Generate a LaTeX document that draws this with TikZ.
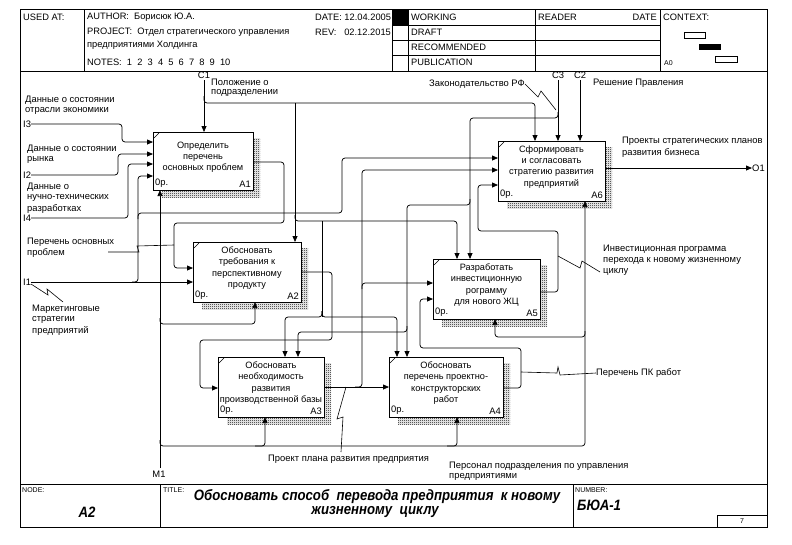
\documentclass[tikz,border=0pt]{standalone}
\usepackage{fontspec}
\setmainfont{Liberation Sans}
\usetikzlibrary{arrows.meta,patterns,calc,fit}
\pgfdeclarepatternformonly{fdots}{\pgfqpoint{0pt}{0pt}}{\pgfqpoint{2pt}{2pt}}{\pgfqpoint{2pt}{2pt}}{%
  \pgfpathrectangle{\pgfqpoint{0pt}{0pt}}{\pgfqpoint{1pt}{1pt}}%
  \pgfpathrectangle{\pgfqpoint{1pt}{1pt}}{\pgfqpoint{1pt}{1pt}}%
  \pgfusepath{fill}}
\tikzset{
  ln/.style={line width=0.75pt, rounded corners=3pt},
  arr/.style={ln, -{Triangle[length=6pt,width=5pt]}},
  lead/.style={line width=0.6pt},
  lbl/.style={font=\fontsize{9.4}{11}\selectfont, inner sep=0pt, anchor=west},
  hd/.style={font=\fontsize{9.3}{11}\selectfont, inner sep=0pt, anchor=west},
  sm/.style={font=\fontsize{7}{8}\selectfont, inner sep=0pt, anchor=west},
  frm/.style={line width=0.8pt},
  btxt/.style={font=\fontsize{9.2}{11.2}\selectfont, align=center, inner sep=0pt, anchor=center},
  bt/.style={font=\bfseries\itshape\fontsize{15}{16}\selectfont, inner sep=0pt},
}
\newcommand\idbox[7]{%
  \fill[pattern=fdots] (#2+9,#3+6) rectangle (#4+7,#5+7);
  \path (#2,#3) coordinate (#1nw) (#4,#5) coordinate (#1se);
  \node[draw, line width=0.8pt, fill=white, inner sep=0pt, outer sep=0pt, fit=(#1nw)(#1se)] (#1) {};
  \node[btxt] at ($(#1.center)+(0,-4)$) {#6};
  \node[lbl, anchor=south west] at ($(#1.south west)+(2,-2)$) {0р.};
  \node[lbl, anchor=south east] at ($(#1.south east)+(-2,-2)$) {#7};
  \draw[line width=0.6pt] ($(#1.north west)+(1,6)$) -- ($(#1.north west)+(6,1)$);
}
\begin{document}
\begin{tikzpicture}[x=1pt,y=-1pt]
\useasboundingbox (0,0) rectangle (792,544);
% ---------- frame ----------
\draw[frm] (20,9) rectangle (767,527);
\draw[frm] (20,71) -- (767,71);
\draw[frm] (84,9) -- (84,71);
\draw[frm] (392,9) -- (392,71);
\draw[frm] (408,9) -- (408,71);
\draw[frm] (535,9) -- (535,71);
\draw[frm] (660,9) -- (660,71);
\draw[frm] (392,25) -- (660,25);
\draw[frm] (392,40) -- (660,40);
\draw[frm] (392,55) -- (660,55);
\fill (392,9) rectangle (408,25);
\node[hd] at (23,17) {USED AT:};
\node[hd] at (87,17) {AUTHOR:\ \ Борисюк Ю.А.};
\node[hd] at (315,17) {DATE: 12.04.2005};
\node[hd] at (87,32) {PROJECT:\ \ Отдел стратегического управления};
\node[hd] at (87,45) {предприятиями Холдинга};
\node[hd] at (315,32) {REV:\ \ \ 02.12.2015};
\node[hd] at (87,62) {NOTES:\ \ 1\ \ 2\ \ 3\ \ 4\ \ 5\ \ 6\ \ 7\ \ 8\ \ 9\ \ 10};
\node[hd] at (411,17) {WORKING};
\node[hd] at (411,32) {DRAFT};
\node[hd] at (411,47) {RECOMMENDED};
\node[hd] at (411,62) {PUBLICATION};
\node[hd] at (538,17) {READER};
\node[hd, anchor=east] at (657,17) {DATE};
\node[hd] at (663,17) {CONTEXT:};
\node[sm] at (664,63) {A0};
\draw[line width=0.7pt] (684,32) rectangle (705,38);
\fill (699,44) rectangle (721,50);
\draw[line width=0.7pt] (715,56) rectangle (737,62);
% footer
\draw[frm] (20,484) -- (767,484);
\draw[frm] (160,484) -- (160,527);
\draw[frm] (573,484) -- (573,527);
\draw[frm] (717,515) rectangle (767,527);
\node[sm] at (22,490) {NODE:};
\node[sm] at (163,490) {TITLE:};
\node[sm] at (575,490) {NUMBER:};
\node[bt] at (87,512) {\scalebox{0.88}[1]{A2}};
\node[bt] at (377,497) {\scalebox{0.88}[1]{Обосновать способ\ \ перевода предприятия\ \ к новому}};
\node[bt] at (375,512) {\scalebox{0.88}[1]{жизненному\ \ циклу}};
\node[bt, anchor=west] at (577,505) {\scalebox{0.88}[1]{БЮА-1}};
\node[sm, anchor=center] at (742,521) {7};
% ---------- boxes ----------
\idbox{A1}{153}{132}{253}{190}{Определить\\перечень\\основных проблем}{A1}
\idbox{A2}{193}{242}{301}{302}{Обосновать\\требования к\\перспективному\\продукту}{A2}
\idbox{A3}{218}{357}{324}{417}{Обосновать\\необходимость\\развития\\производственной базы}{A3}
\idbox{A4}{389}{357}{503}{417}{Обосновать\\перечень проектно-\\конструкторских\\работ}{A4}
\idbox{A5}{433}{259}{540}{319}{Разработать\\инвестиционную\\рограмму\\для нового ЖЦ}{A5}
\idbox{A6}{498}{141}{605}{201}{Сформировать\\и согласовать\\стратегию развития\\предприятий}{A6}
% ---------- labels ----------
\node[lbl, anchor=center] (tC1) at (204,75) {C1};
\node[lbl] at (211,82) {Положение о};
\node[lbl] at (211,93) {подразделении};
\node[lbl] at (25,100) {Данные о состоянии};
\node[lbl] at (25,111) {отрасли экономики};
\node[lbl] (tI3) at (23,124) {I3};
\node[lbl] at (27,149) {Данные о состоянии};
\node[lbl] at (27,160) {рынка};
\node[lbl] (tI2) at (23,175) {I2};
\node[lbl] at (27,187) {Данные о};
\node[lbl] at (27,198) {нучно-технических};
\node[lbl] at (27,209) {разработках};
\node[lbl] (tI4) at (23,218) {I4};
\node[lbl] at (27,242) {Перечень основных};
\node[lbl] (tPer) at (27,253) {проблем};
\node[lbl] (tI1) at (23,282) {I1};
\node[lbl] at (32,309) {Маркетинговые};
\node[lbl] at (32,320) {стратегии};
\node[lbl] at (32,331) {предприятий};
\node[lbl] (tLaw) at (429,84) {Законодательство РФ};
\node[lbl, anchor=center] (tC3) at (558,75) {C3};
\node[lbl, anchor=center] (tC2) at (580,75) {C2};
\node[lbl] at (593,83) {Решение Правления};
\node[lbl] at (622,141) {Проекты стратегических планов};
\node[lbl] at (622,153) {развития бизнеса};
\node[lbl] (tO1) at (752,168) {O1};
\node[lbl] at (603,249) {Инвестиционная программа};
\node[lbl] at (603,261) {перехода к новому жизненному};
\node[lbl] at (603,272) {циклу};
\node[lbl] (tPK) at (596,373) {Перечень ПК работ};
\node[lbl] at (268,459) {Проект плана развития предприятия};
\node[lbl] at (449,466) {Персонал подразделения по управления};
\node[lbl] at (449,477) {предприятиями};
\node[lbl, anchor=center] (tM1) at (159,474) {M1};
% ---------- coordinates ----------
\coordinate (c1) at (204,80);
\coordinate (c3) at (558,80);
\coordinate (c2) at (580,80);
\coordinate (m1) at (160,468);
% ---------- controls ----------
\draw[arr] (c1) -- (c1 |- A1.north);
\draw[arr] (204,96) -- (204,103) -- (535,103) -- (535,0 |- A6.north);
\draw[arr] (295,103) -- (295,0 |- A2.north);
\draw[arr] (295,215) -- (295,221) -- (457,221) -- (457,0 |- A5.north);
\draw[ln] (322,221) -- (322,317);
\draw[arr] (322,311) -- (322,317) -- (285,317) -- (285,0 |- A3.north);
\draw[arr] (322,311) -- (322,317) -- (397,317) -- (397,0 |- A4.north);
\draw[arr] (c3) -- (c3 |- A6.north);
\draw[arr] (558,112) -- (558,118) -- (470,118) -- (470,0 |- A5.north);
\draw[arr] (470,199) -- (470,205) -- (407,205) -- (407,0 |- A4.north);
\draw[arr] (407,326) -- (407,332) -- (298,332) -- (298,0 |- A3.north);
\draw[lead] (tLaw.east) -- (538,97) -- (541,91) -- (556,110);
\draw[arr] (c2) -- (c2 |- A6.north);
% ---------- mechanisms ----------
\draw[arr] (m1) -- (m1 |- A1.south);
\draw[arr] (160,318) -- (160,324) -- (255,324) -- (255,0 |- A2.south);
\draw[arr] (160,440) -- (160,446) -- (585,446) -- (585,0 |- A6.south);
\draw[arr] (255,446) -- (265,446) -- (265,0 |- A3.south);
\draw[arr] (447,446) -- (457,446) -- (457,0 |- A4.south);
\draw[arr] (585,331) -- (585,337) -- (495,337) -- (495,0 |- A5.south);
% ---------- inputs ----------
\draw[arr] (tI3.east) -- (122,124) -- (122,142) -- (A1.west |- 0,142);
\draw[arr] (tI2.east) -- (118,175) -- (118,154) -- (A1.west |- 0,154);
\draw[arr] (tI4.east) -- (128,218) -- (128,164) -- (A1.west |- 0,164);
\draw[arr] (tI1.east) -- (A2.west |- 0,282);
\draw[arr] (132,282) -- (138,282) -- (138,176) -- (A1.west |- 0,176);
\draw[arr] (138,219) -- (138,213) -- (342,213) -- (342,158) -- (A6.west |- 0,158);
\draw[lead] (31,284) -- (48,295) -- (47,289) -- (63,302);
% ---------- outputs ----------
\draw[arr] (A1.east |- 0,162) -- (284,162) -- (284,223) -- (174,223) -- (174,268) -- (A2.west |- 0,268);
\draw[lead] (108,252) -- (139,252) -- (137,246) -- (174,245);
\draw[arr] (A2.east |- 0,272) -- (332,272) -- (332,340) -- (200,340) -- (200,388) -- (A3.west |- 0,388);
\draw[arr] (A3.east |- 0,387) -- (A4.west |- 0,387);
\draw[arr] (355,387) -- (362,387) -- (362,170) -- (A6.west |- 0,170);
\draw[arr] (362,289) -- (362,283) -- (A5.west |- 0,283);
\draw[lead] (341,452) -- (343,417) -- (337,419) -- (346,387);
\draw[arr] (A4.east |- 0,388) -- (521,388) -- (521,348) -- (420,348) -- (420,299) -- (A5.west |- 0,299);
\draw[lead] (521,372) -- (557,373) -- (558,367) -- (560,375) -- (tPK.west);
\draw[arr] (A5.east |- 0,292) -- (558,292) -- (558,231) -- (478,231) -- (478,185) -- (A6.west |- 0,185);
\draw[lead] (558,256) -- (580,268) -- (582,261) -- (600,272);
\draw[arr] (A6.east |- 0,168) -- (tO1.west);
\end{tikzpicture}
\end{document}
